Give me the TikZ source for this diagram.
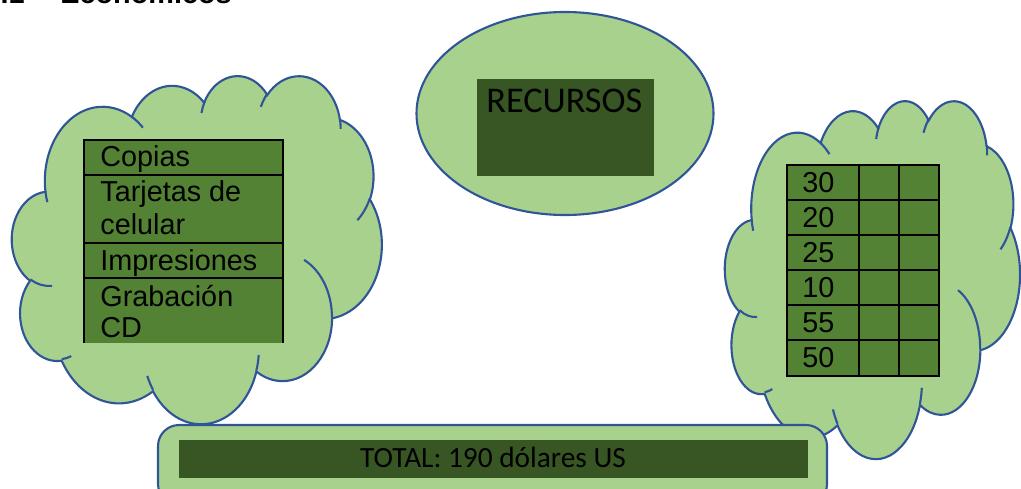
\documentclass[tikz,border=0pt]{standalone}
\usepackage{fontspec}
\setmainfont{Liberation Sans}
\newfontfamily\calibri{Carlito}
\definecolor{cloudgreen}{HTML}{A9D18E}
\definecolor{cloudblue}{HTML}{2F5597}
\definecolor{darkgreen}{HTML}{375623}
\definecolor{cellgreen}{HTML}{548235}
\newcommand\cloudarc[4]{%
  \pgfextra{%
    \pgfmathsetmacro\cloudta{atan2((#1)*sin(#3),(#2)*cos(#3))}%
    \pgfmathsetmacro\cloudtb{atan2((#1)*sin((#3)+(#4)),(#2)*cos((#3)+(#4)))}%
    \pgfmathsetmacro\cloudda{(#4)+Mod(\cloudtb-\cloudta-(#4)+180,360)-180}%
    \xdef\cloudta{\cloudta}\xdef\cloudda{\cloudda}}%
  arc[start angle=\cloudta, delta angle=\cloudda, x radius=#1, y radius=#2]}
\newcommand\cloudshape[4]{%
  \pgfmathsetmacro\cloudux{#3*0.02/432}%
  \pgfmathsetmacro\clouduy{-#4*0.02/432}%
  \begin{scope}[shift={(#1,#2)}, x=\cloudux cm, y=\clouduy cm]
  \draw[cloudline] (39.00,143.70) \cloudarc{67.53}{91.90}{-190.48748}{123.78053}
    \cloudarc{53.33}{72.67}{-144.10238}{89.94523}
    \cloudarc{43.65}{59.45}{-145.80792}{99.72302}
    \cloudarc{48.57}{65.95}{-130.98607}{117.24173}
    \cloudarc{53.33}{72.73}{-78.70888}{109.02692}
    \cloudarc{67.75}{92.20}{-46.26725}{130.269}
    \cloudarc{57.85}{78.67}{0.62502}{114.03333}
    \cloudarc{67.52}{92.15}{22.4516}{115.17255}
    \cloudarc{77.20}{105.43}{66.24263}{75.71102}
    \cloudarc{43.60}{59.18}{-274.94208}{146.73557}
    \cloudarc{43.45}{59.45}{-246.8285}{152.51885} -- cycle;
  \draw[cloudedge] (46.93,261.77) \cloudarc{43.45}{59.45}{86.742}{26.4295}
    (69.28,348.99) \cloudarc{43.60}{59.18}{73.61047}{11.44747}
    (164.78,390.90) \cloudarc{67.52}{92.15}{137.62415}{14.0811}
    (288.27,347.51) \cloudarc{67.52}{92.15}{6.45327}{15.99835}
    (341.29,229.54) \cloudarc{57.85}{78.67}{-70.29235}{70.91737}
    (417.98,153.54) \cloudarc{53.33}{72.73}{30.31803}{27.7515}
    (383.24,54.26) \cloudarc{48.57}{65.95}{-13.74433}{14.8589}
    (290.78,39.52) \cloudarc{48.57}{65.95}{-149.18145}{18.19537}
    (221.41,47.20) \cloudarc{43.65}{59.45}{-163.49427}{17.68635}
    (140.00,51.92) \cloudarc{67.53}{91.90}{-66.70695}{12.31935}
    (41.27,157.89) \cloudarc{67.53}{91.90}{157.65435}{11.85817};
  \end{scope}}
\tikzset{
  cloudline/.style={draw=cloudblue, line width=1.2pt, fill=cloudgreen},
  cloudedge/.style={draw=cloudblue, line width=1.2pt},
  grid/.style={draw=black, line width=1.1pt},
  celltext/.style={anchor=base west, inner sep=0pt, font=\fontsize{16.4pt}{19.3pt}\selectfont},
}
\begin{document}
\begin{tikzpicture}[x=0.02cm, y=-0.02cm]
\useasboundingbox (0,0) rectangle (1021,489);
\clip (0,0) rectangle (1021,489);
\node[anchor=base east, inner sep=0pt, font=\bfseries\fontsize{16.4pt}{19.3pt}\selectfont] (num) at (25,4) {4.1};
\node[anchor=base west, inner sep=0pt, font=\bfseries\fontsize{16.4pt}{19.3pt}\selectfont] (title) at (60,4) {Económicos};
\cloudshape{12}{75}{370}{348}
\cloudshape{725}{100}{295}{358}
\draw[cloudline] (565,113.5) ellipse [x radius=148.5, y radius=101.5];
\fill[darkgreen] (477,79) rectangle (654,176);
\node[anchor=base west, inner sep=0pt, font=\calibri\fontsize{20.6pt}{24pt}\selectfont] (recursos) at (486,113) {RECURSOS};
\fill[cellgreen] (84,140) rectangle (283,343);
\draw[grid] (84,343) -- (84,140) -- (283,140) -- (283,343);
\draw[grid] (84,175) -- (283,175);
\draw[grid] (84,243) -- (283,243);
\draw[grid] (84,278) -- (283,278);
\node[celltext] (copias) at (100,167) {Copias};
\node[celltext] (tarjetas) at (100,202) {Tarjetas de};
\node[celltext] (celular) at (100,235) {celular};
\node[celltext] (impresiones) at (100,271) {Impresiones};
\node[celltext] (grabacion) at (100,307) {Grabación};
\node[celltext] (cd) at (100,338) {CD};
\fill[cellgreen] (787,165) rectangle (939,376);
\draw[grid] (787,165) rectangle (939,376);
\draw[grid] (859,165) -- (859,376);
\draw[grid] (899,165) -- (899,376);
\draw[grid] (787,200) -- (939,200);
\draw[grid] (787,235) -- (939,235);
\draw[grid] (787,270) -- (939,270);
\draw[grid] (787,305) -- (939,305);
\draw[grid] (787,340) -- (939,340);
\node[celltext] (n30) at (802,193) {30};
\node[celltext] (n20) at (802,228) {20};
\node[celltext] (n25) at (802,263) {25};
\node[celltext] (n10) at (802,298) {10};
\node[celltext] (n55) at (802,333) {55};
\node[celltext] (n50) at (802,368) {50};
\draw[cloudline, rounded corners=12] (158,425) rectangle (827,505);
\fill[darkgreen] (179,440) rectangle (808,478);
\node[anchor=base, inner sep=0pt, font=\calibri\fontsize{16.7pt}{19pt}\selectfont] (total) at (493,467) {TOTAL: 190 dólares US};
\end{tikzpicture}
\end{document}
